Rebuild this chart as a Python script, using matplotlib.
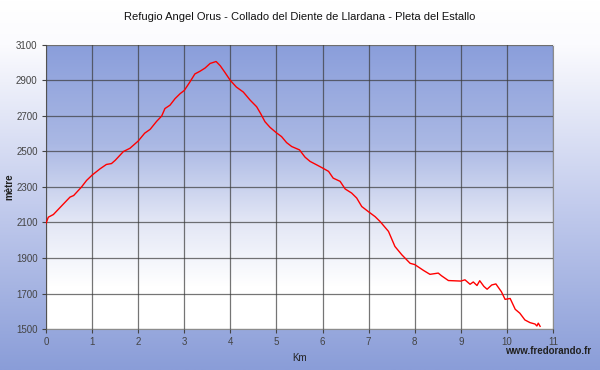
import numpy as np
import matplotlib
matplotlib.use("Agg")
import matplotlib.pyplot as plt
from matplotlib.colors import LinearSegmentedColormap

plt.rcParams['font.family'] = ['Liberation Sans', 'DejaVu Sans']

# distance (km) and altitude (m)
km = [0.00, 0.05, 0.16, 0.27, 0.38, 0.52, 0.60, 0.77, 0.88, 1.00,
      1.17, 1.31, 1.42, 1.50, 1.68, 1.82, 2.00, 2.14, 2.26, 2.40,
      2.51, 2.58, 2.69, 2.80, 2.91, 3.00, 3.12, 3.23, 3.34, 3.45,
      3.56, 3.69, 3.78, 3.88, 4.00, 4.13, 4.28, 4.43, 4.57, 4.66,
      4.75, 4.86, 5.00, 5.11, 5.22, 5.33, 5.50, 5.62, 5.73, 5.87,
      6.00, 6.13, 6.23, 6.38, 6.49, 6.63, 6.74, 6.85, 7.00, 7.14,
      7.25, 7.43, 7.57, 7.72, 7.90, 8.00, 8.19, 8.33, 8.51, 8.58,
      8.73, 9.00, 9.09, 9.20, 9.27, 9.35, 9.41, 9.50, 9.57, 9.67,
      9.76, 9.88, 9.96, 10.07, 10.18, 10.28, 10.39, 10.50, 10.61, 10.65,
      10.68, 10.72]
alt = [2095, 2130, 2145, 2175, 2205, 2243, 2252, 2300, 2337, 2367,
       2402, 2427, 2432, 2450, 2500, 2518, 2559, 2603, 2625, 2670,
       2700, 2742, 2761, 2798, 2826, 2844, 2891, 2937, 2952, 2970,
       2996, 3007, 2983, 2946, 2900, 2863, 2835, 2789, 2752, 2712,
       2668, 2636, 2605, 2584, 2550, 2528, 2509, 2468, 2444, 2425,
       2407, 2388, 2350, 2332, 2289, 2266, 2238, 2190, 2160, 2133,
       2105, 2050, 1965, 1918, 1870, 1863, 1830, 1808, 1815, 1800,
       1773, 1770, 1777, 1752, 1765, 1745, 1772, 1740, 1724, 1748,
       1754, 1710, 1667, 1672, 1611, 1589, 1551, 1536, 1528, 1517,
       1533, 1515]

title = "Refugio Angel Orus - Collado del Diente de Llardana - Pleta del Estallo"

fig = plt.figure(figsize=(6, 3.7), dpi=100)

# figure background: white at top, blue at bottom
bg = fig.add_axes([0, 0, 1, 1], zorder=-10)
bg_cmap = LinearSegmentedColormap.from_list(
    "bg", [(0, "#ffffff"), (0.12, "#fbfbfe"), (0.55, "#c3cced"), (1, "#8a9dd8")])
bg.imshow(np.linspace(0, 1, 256).reshape(-1, 1), cmap=bg_cmap, aspect="auto",
          extent=[0, 1, 0, 1], origin="upper")
bg.set_axis_off()

ax = fig.add_axes([0.0767, 0.1108, 0.845, 0.7676])
ax_cmap = LinearSegmentedColormap.from_list(
    "ax", [(0, "#8a9edb"), (0.35, "#aab8e4"), (0.62, "#e2e6f5"), (0.85, "#ffffff"), (1, "#ffffff")])
ax.imshow(np.linspace(0, 1, 256).reshape(-1, 1), cmap=ax_cmap, aspect="auto",
          extent=[0, 11, 1500, 3100], origin="upper", zorder=0)

ax.plot(km, alt, color="#ff0000", lw=1.0, zorder=3)

ax.set_xlim(0, 11)
ax.set_ylim(1500, 3100)
ax.set_xticks(range(0, 12))
ax.set_yticks(range(1500, 3101, 200))
ax.grid(True, color="#3a3a3a", lw=0.9, alpha=0.7, zorder=1)
ax.set_axisbelow(False)
for s in ["left", "bottom", "right"]:
    ax.spines[s].set_color("#8c8c8c")
ax.spines["top"].set_color("#e8e8e8")
ax.tick_params(axis="both", labelsize=7, colors="#444444", length=3, width=0.8, pad=3)

ax.set_xlabel("Km", fontsize=7, color="#222222")
ax.xaxis.set_label_coords(0.5, -0.085)
ax.set_ylabel("mètre", fontsize=7, fontweight="bold", color="#222222")
ax.yaxis.set_label_coords(-0.062, 0.5)

fig.text(0.5, 0.955, title, ha="center", va="center", fontsize=8, color="#111111")
fig.text(0.985, 0.05, "www.fredorando.fr", ha="right", va="center",
         fontsize=7, fontweight="bold", color="#222222")

fig.savefig("out.png", dpi=100)
